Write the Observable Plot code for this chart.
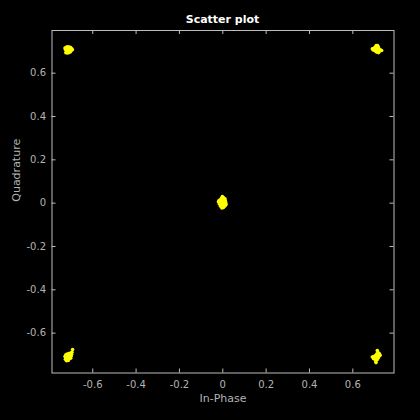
<!DOCTYPE html>
<html>
<head>
<meta charset="utf-8">
<script src="https://cdn.jsdelivr.net/npm/d3@7"></script>
<script src="https://cdn.jsdelivr.net/npm/@observablehq/plot@0.6"></script>
<style>
  html, body { margin: 0; padding: 0; background: #000; }
  body { width: 420px; height: 420px; overflow: hidden; font-family: "DejaVu Sans", sans-serif; }
  #title { height: 28px; box-sizing: border-box; padding-top: 14px; padding-left: 51px; width: 394px; text-align: center;
           color: #fff; font-weight: bold; font-size: 11px; line-height: 11px; }
</style>
</head>
<body>
<div id="title">Scatter plot</div>
<div id="chart"></div>
<script>
const titleText = "Scatter plot";
const xLabel = "In-Phase";
const yLabel = "Quadrature";
const tickValues = [-0.6, -0.4, -0.2, 0, 0.2, 0.4, 0.6];

const inPhase = [
  // upper-left symbol
  -0.728,-0.722,-0.716,-0.708,-0.702,-0.697,-0.694,-0.726,-0.719,-0.712,-0.705,-0.700,-0.716,-0.709,-0.721,-0.724,-0.717,-0.710,-0.704,-0.713,-0.720,
  // upper-right symbol
  0.708,0.714,0.702,0.710,0.718,0.690,0.697,0.704,0.712,0.720,0.727,0.733,0.700,0.708,0.716,0.724,0.712,0.719,0.706,0.694,
  // centre symbol
  -0.002,0.003,-0.006,0.002,0.008,-0.012,-0.004,0.004,0.012,-0.020,-0.012,-0.004,0.005,0.014,-0.016,-0.008,0.000,0.008,0.015,-0.010,-0.002,0.006,0.011,-0.004,0.003,-0.017,0.010,
  // lower-left symbol
  -0.693,-0.696,-0.702,-0.710,-0.718,-0.724,-0.698,-0.705,-0.713,-0.721,-0.728,-0.700,-0.708,-0.716,-0.724,-0.702,-0.710,-0.718,-0.726,-0.721,-0.713,
  // lower-right symbol
  0.713,0.716,0.722,0.710,0.718,0.726,0.704,0.712,0.720,0.696,0.690,0.700,0.708,0.716,0.696,0.704,0.712,0.706,0.707
];
const quadrature = [
  0.716,0.720,0.722,0.721,0.718,0.713,0.708,0.709,0.712,0.714,0.710,0.704,0.703,0.700,0.700,0.694,0.693,0.695,0.698,0.707,0.718,
  0.728,0.727,0.720,0.720,0.721,0.713,0.714,0.712,0.711,0.713,0.708,0.705,0.706,0.704,0.703,0.702,0.697,0.695,0.700,0.707,
  0.030,0.026,0.022,0.020,0.018,0.015,0.013,0.012,0.010,0.006,0.004,0.005,0.003,0.002,-0.004,-0.006,-0.004,-0.007,-0.006,-0.014,-0.016,-0.015,-0.012,-0.022,-0.020,0.012,0.020,
  -0.676,-0.688,-0.692,-0.694,-0.696,-0.700,-0.698,-0.701,-0.703,-0.705,-0.708,-0.707,-0.710,-0.712,-0.714,-0.716,-0.719,-0.720,-0.721,-0.727,-0.726,
  -0.680,-0.690,-0.694,-0.696,-0.700,-0.702,-0.703,-0.705,-0.708,-0.708,-0.710,-0.712,-0.714,-0.716,-0.718,-0.721,-0.723,-0.729,-0.736
];

const points = inPhase.map((x, i) => ({x, y: quadrature[i]}));
const fmt = d => d === 0 ? "0" : String(d);
const axisColor = "#bdbdbd";
const textColor = "#b3b3b3";

const W = 420, H = 392;
const mL = 51.5, mR = 26.5, mT = 2, mB = 47.5;
const fw = W - mL - mR, fh = H - mT - mB;
const tickLen = 4;

const chart = Plot.plot({
  width: W, height: H,
  marginLeft: mL, marginRight: mR, marginTop: mT, marginBottom: mB,
  style: {background: "#000", color: textColor, fontFamily: "DejaVu Sans, sans-serif", fontSize: "10px"},
  x: {domain: [-0.788, 0.79], axis: null},
  y: {domain: [-0.784, 0.797], axis: null},
  marks: [
    Plot.dot(points, {x: "x", y: "y", r: 1.8, fill: "#ffff00", stroke: null}),
    Plot.frame({stroke: axisColor}),
    Plot.tickX(tickValues, {x: d => d, stroke: axisColor, insetTop: fh - tickLen}),
    Plot.tickX(tickValues, {x: d => d, stroke: axisColor, insetBottom: fh - tickLen}),
    Plot.tickY(tickValues, {y: d => d, stroke: axisColor, insetRight: fw - tickLen}),
    Plot.tickY(tickValues, {y: d => d, stroke: axisColor, insetLeft: fw - tickLen}),
    Plot.axisX(tickValues, {anchor: "bottom", tickSize: 0, tickPadding: 8, tickFormat: fmt, label: null, color: textColor, fontSize: 10}),
    Plot.axisY(tickValues, {anchor: "left", tickSize: 0, tickPadding: 6, tickFormat: fmt, label: null, color: textColor, fontSize: 10}),
    Plot.text([xLabel], {text: d => d, frameAnchor: "bottom", dy: 29, fill: textColor, fontSize: 11}),
    Plot.text([yLabel], {text: d => d, frameAnchor: "left", dx: -36, rotate: -90, fill: textColor, fontSize: 11})
  ]
});
document.getElementById("chart").appendChild(chart);
document.getElementById("title").textContent = titleText;
</script>
</body>
</html>
